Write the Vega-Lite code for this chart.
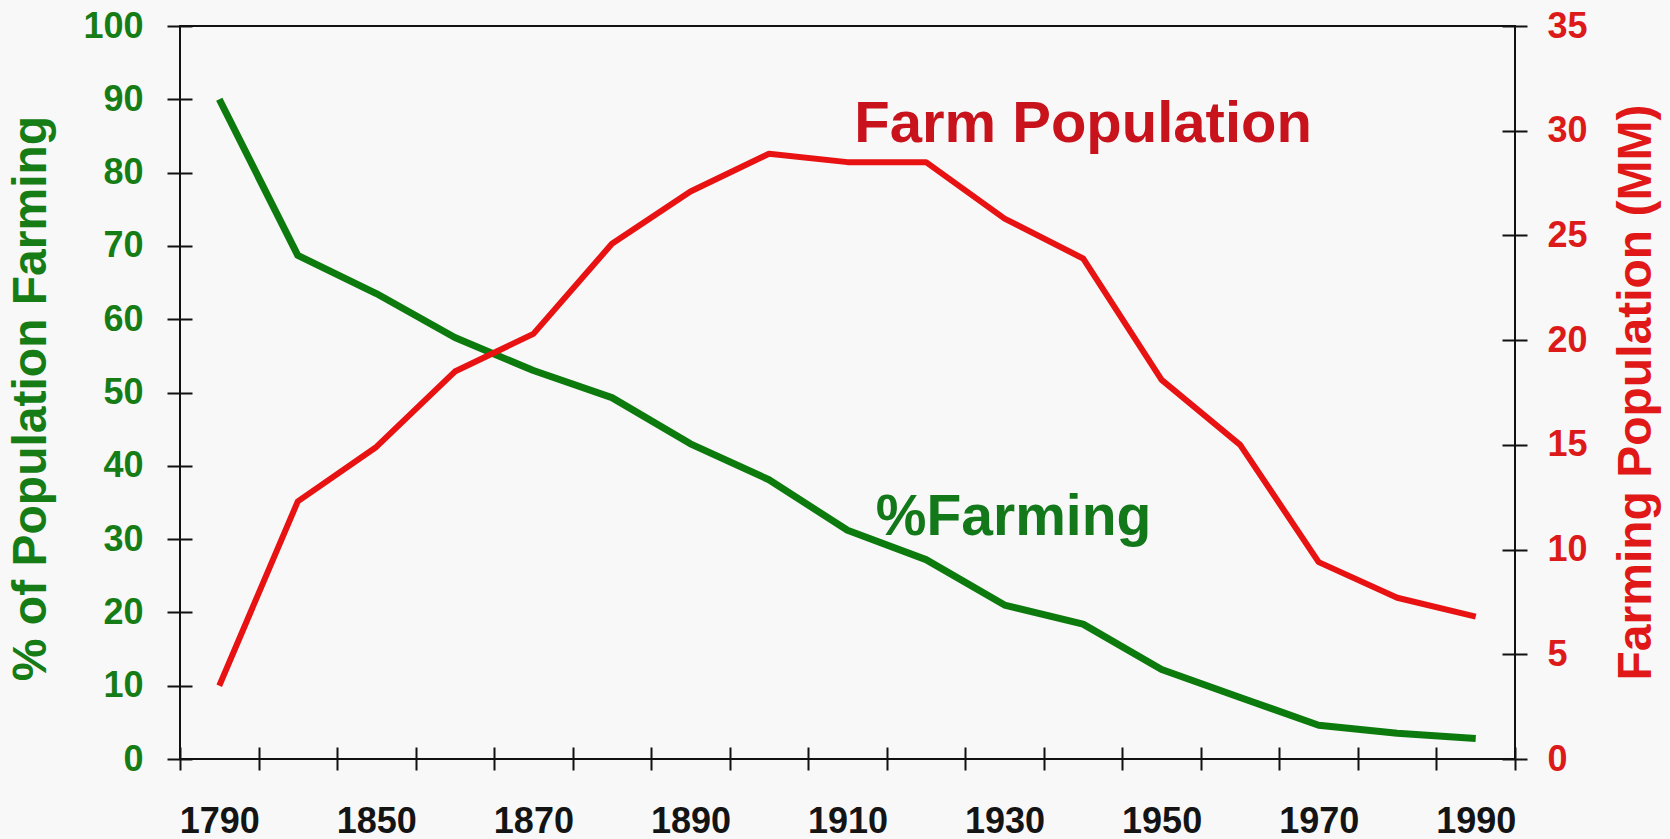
{
  "$schema": "https://vega.github.io/schema/vega-lite/v6.json",
  "width": 1335,
  "height": 733,
  "autosize": "none",
  "padding": {"left": 180, "top": 26, "right": 155, "bottom": 80},
  "background": "#f8f8f8",
  "config": {
    "view": {"stroke": "#111111", "strokeWidth": 2},
    "axis": {
      "grid": false,
      "domain": false,
      "tickColor": "#111111",
      "tickWidth": 2,
      "labelFont": "Liberation Sans",
      "titleFont": "Liberation Sans",
      "labelOverlap": false
    },
    "text": {"font": "Liberation Sans"}
  },
  "datasets": {
    "series": [
      {"year": "1790", "pct": 90.0, "pop": 3.5},
      {"year": "1840", "pct": 68.7, "pop": 12.3},
      {"year": "1850", "pct": 63.5, "pop": 14.9},
      {"year": "1860", "pct": 57.5, "pop": 18.5},
      {"year": "1870", "pct": 53.0, "pop": 20.3},
      {"year": "1880", "pct": 49.3, "pop": 24.6},
      {"year": "1890", "pct": 43.0, "pop": 27.1},
      {"year": "1900", "pct": 38.1, "pop": 28.9},
      {"year": "1910", "pct": 31.2, "pop": 28.5},
      {"year": "1920", "pct": 27.2, "pop": 28.5},
      {"year": "1930", "pct": 21.0, "pop": 25.8},
      {"year": "1940", "pct": 18.4, "pop": 23.9},
      {"year": "1950", "pct": 12.2, "pop": 18.1},
      {"year": "1960", "pct": 8.4, "pop": 15.0},
      {"year": "1970", "pct": 4.6, "pop": 9.4},
      {"year": "1980", "pct": 3.5, "pop": 7.7},
      {"year": "1990", "pct": 2.8, "pop": 6.8}
    ],
    "pctLabel": [{"label": "%Farming", "year": "1930", "pct": 30.5}],
    "popLabel": [{"label": "Farm Population", "year": "1940", "pop": 29.45}]
  },
  "layer": [
    {
      "data": {"name": "series"},
      "mark": {"type": "line", "color": "#0d7a0d", "strokeWidth": 7, "strokeJoin": "round"},
      "encoding": {
        "x": {
          "field": "year", "type": "ordinal", "bandPosition": 0.5,
          "scale": {"type": "band", "paddingInner": 0, "paddingOuter": 0,
            "domain": ["1790","1840","1850","1860","1870","1880","1890","1900","1910","1920","1930","1940","1950","1960","1970","1980","1990"]},
          "axis": {
            "orient": "bottom", "title": null, "tickBand": "extent",
            "offset": -12, "tickSize": 23,
            "labelPadding": 62, "labelBaseline": "alphabetic", "labelFontSize": 36,
            "labelFontWeight": "bold", "labelColor": "#141414", "labelAngle": 0,
            "labelExpr": "indexof(['1790','1850','1870','1890','1910','1930','1950','1970','1990'], datum.label) >= 0 ? datum.label : ''"
          }
        },
        "y": {
          "field": "pct", "type": "quantitative",
          "scale": {"domain": [0, 100], "nice": false},
          "axis": {
            "orient": "left", "values": [0, 10, 20, 30, 40, 50, 60, 70, 80, 90, 100],
            "offset": -12, "tickSize": 25, "labelPadding": 24,
            "labelFontSize": 36, "labelFontWeight": "bold", "labelColor": "#167c16",
            "title": "% of Population Farming", "titleFontSize": 48, "titleFontWeight": "bold",
            "titleColor": "#167c16", "titleAngle": 270, "titleBaseline": "alphabetic",
            "titleX": -147, "titleY": 372
          }
        }
      }
    },
    {
      "data": {"name": "series"},
      "mark": {"type": "line", "color": "#e81212", "strokeWidth": 6, "strokeJoin": "round"},
      "encoding": {
        "x": {"field": "year", "type": "ordinal", "bandPosition": 0.5},
        "y": {
          "field": "pop", "type": "quantitative",
          "scale": {"domain": [0, 35], "nice": false},
          "axis": {
            "orient": "right", "values": [0, 5, 10, 15, 20, 25, 30, 35],
            "offset": -13, "tickSize": 25, "labelPadding": 20,
            "labelFontSize": 36, "labelFontWeight": "bold", "labelColor": "#dc1a1a",
            "title": "Farming Population (MM)", "titleFontSize": 48, "titleFontWeight": "bold",
            "titleColor": "#e01818", "titleAngle": 270, "titleBaseline": "alphabetic",
            "titleX": 148, "titleY": 366
          }
        }
      }
    },
    {
      "data": {"name": "pctLabel"},
      "mark": {"type": "text", "fontSize": 57, "fontWeight": "bold", "color": "#12781a", "align": "center", "baseline": "alphabetic", "dx": 9},
      "encoding": {
        "text": {"field": "label"},
        "x": {"field": "year", "type": "ordinal", "bandPosition": 0.5},
        "y": {
          "field": "pct", "type": "quantitative",
          "scale": {"domain": [0, 100], "nice": false},
          "axis": null
        }
      }
    },
    {
      "data": {"name": "popLabel"},
      "mark": {"type": "text", "fontSize": 58, "fontWeight": "bold", "color": "#c8121c", "align": "center", "baseline": "alphabetic"},
      "encoding": {
        "text": {"field": "label"},
        "x": {"field": "year", "type": "ordinal", "bandPosition": 0.5},
        "y": {
          "field": "pop", "type": "quantitative",
          "scale": {"domain": [0, 35], "nice": false},
          "axis": null
        }
      }
    }
  ],
  "resolve": {"scale": {"y": "independent"}}
}
